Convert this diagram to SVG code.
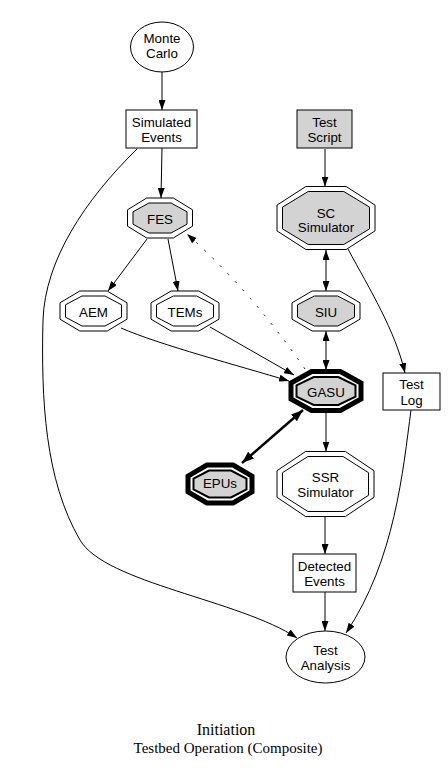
<svg xmlns="http://www.w3.org/2000/svg" width="448" height="773" viewBox="0 0 448 773">
<style>
.n text{font-family:"Liberation Sans",Arial,sans-serif;font-size:13.33px;text-anchor:middle;fill:#000}
.o{fill:none;stroke:#000;stroke-width:1}
.g{fill:#d3d3d3}
.w{fill:#fff}
.e path{fill:none;stroke:#000;stroke-width:1}
.t{font-family:"Liberation Serif","Times New Roman",serif;font-size:16px;text-anchor:middle;fill:#000}
</style>
<defs>
<marker id="ah" markerWidth="10" markerHeight="7" refX="10" refY="3.5" orient="auto" markerUnits="userSpaceOnUse"><path d="M0,0 L10,3.5 L0,7 z" fill="#000"/></marker>
<marker id="as" markerWidth="10" markerHeight="7" refX="10" refY="3.5" orient="auto-start-reverse" markerUnits="userSpaceOnUse"><path d="M0,0 L10,3.5 L0,7 z" fill="#000"/></marker>
<marker id="ab" markerWidth="12" markerHeight="9" refX="12" refY="4.5" orient="auto-start-reverse" markerUnits="userSpaceOnUse"><path d="M0,0 L12,4.5 L0,9 z" fill="#000"/></marker>
</defs>
<rect width="448" height="773" fill="#fff"/>
<g class="e" id="edges">
<path d="M162,72 L162,110" marker-end="url(#ah)"/>
<path d="M162,148 L161,198" marker-end="url(#ah)"/>
<path d="M325,149 L325,186.5" marker-end="url(#ah)"/>
<path d="M326,250 L326,291" marker-start="url(#as)" marker-end="url(#as)"/>
<path d="M326,331 L326,370" marker-start="url(#as)" marker-end="url(#as)"/>
<path d="M326,413 L326,451.5" marker-end="url(#ah)"/>
<path d="M325,517 L325,554" marker-end="url(#ah)"/>
<path d="M325,592 L325,631" marker-end="url(#ah)"/>
<path d="M147,239 L108,291" marker-end="url(#ah)"/>
<path d="M168,239 L178,291" marker-end="url(#ah)"/>
<path d="M121,328 C160,345 240,366 289,381" marker-end="url(#ah)"/>
<path d="M210,327 L294,375" marker-end="url(#ah)"/>
<path d="M305,369 Q250,290 187,234" stroke-dasharray="2,9" marker-end="url(#ah)"/>
<path d="M303,410 L242,463" style="stroke-width:2.5" marker-start="url(#ab)" marker-end="url(#ab)"/>
<path d="M348,249 C370,290 395,330 405,373" marker-end="url(#ah)"/>
<path d="M411,410 C403,470 395,560 346,633" marker-end="url(#ah)"/>
<path d="M137,149 C85,200 45,260 43,320 C41,400 45,480 80,540 C105,583 240,600 297,638" marker-end="url(#ah)"/>
</g>
<g class="n" id="monte-carlo">
<ellipse cx="162" cy="47" rx="31.5" ry="25" class="o w"/>
<text x="162" y="43">Monte</text><text x="162" y="58">Carlo</text>
</g>
<g class="n" id="simulated-events">
<rect x="126" y="110" width="71" height="38" class="o w"/>
<text x="161.5" y="126.5">Simulated</text><text x="161.5" y="141.5">Events</text>
</g>
<g class="n" id="test-script">
<rect x="297" y="110" width="55" height="38" class="o g"/>
<text x="324.5" y="126.5">Test</text><text x="324.5" y="141.5">Script</text>
</g>
<g class="n" id="fes">
<polygon class="o w" points="146.7,198 173.3,198 192.5,209.8 192.5,226.2 173.3,238 146.7,238 127.5,226.2 127.5,209.8"/>
<polygon class="o g" points="148.9,203 171.1,203 187,211.8 187,224.2 171.1,233 148.9,233 133,224.2 133,211.8"/>
<text x="160" y="223.5">FES</text>
</g>
<g class="n" id="sc-simulator">
<polygon class="o w" points="305.9,186.5 346.1,186.5 375,205.1 375,230.9 346.1,249.5 305.9,249.5 277,230.9 277,205.1"/>
<polygon class="o g" points="308.2,191.5 343.8,191.5 369.5,207.1 369.5,228.9 343.8,244.5 308.2,244.5 282.5,228.9 282.5,207.1"/>
<text x="326" y="217.5">SC</text><text x="326" y="232">Simulator</text>
</g>
<g class="n" id="aem">
<polygon class="o w" points="79.8,291 107.2,291 127,302.8 127,319.2 107.2,331 79.8,331 60,319.2 60,302.8"/>
<polygon class="o w" points="82,296 105,296 121.5,304.8 121.5,317.2 105,326 82,326 65.5,317.2 65.5,304.8"/>
<text x="93.5" y="316.5">AEM</text>
</g>
<g class="n" id="tems">
<polygon class="o w" points="171.1,291 198.9,291 219,302.8 219,319.2 198.9,331 171.1,331 151,319.2 151,302.8"/>
<polygon class="o w" points="173.3,296 196.7,296 213.5,304.8 213.5,317.2 196.7,326 173.3,326 156.5,317.2 156.5,304.8"/>
<text x="185" y="316.5">TEMs</text>
</g>
<g class="n" id="siu">
<polygon class="o w" points="312.1,291 339.9,291 360,302.8 360,319.2 339.9,331 312.1,331 292,319.2 292,302.8"/>
<polygon class="o g" points="314.3,296 337.7,296 354.5,304.8 354.5,317.2 337.7,326 314.3,326 297.5,317.2 297.5,304.8"/>
<text x="326" y="316.5">SIU</text>
</g>
<g class="n" id="gasu">
<polygon class="w" style="stroke:#000;stroke-width:5" points="311.6,371.5 340.4,371.5 361,383 361,399 340.4,410.5 311.6,410.5 291,399 291,383"/>
<polygon class="g" style="stroke:#000;stroke-width:2" points="313.7,377 338.3,377 355.5,385.3 355.5,396.7 338.3,405 313.7,405 296.5,396.7 296.5,385.3"/>
<text x="326" y="397">GASU</text>
</g>
<g class="n" id="test-log">
<rect x="383" y="373" width="57" height="37" class="o w"/>
<text x="411.5" y="389">Test</text><text x="411.5" y="404.5">Log</text>
</g>
<g class="n" id="epus">
<polygon class="w" style="stroke:#000;stroke-width:5" points="206.9,465 233.1,465 252,476.2 252,491.8 233.1,503 206.9,503 188,491.8 188,476.2"/>
<polygon class="g" style="stroke:#000;stroke-width:2" points="209,470.5 231,470.5 246.5,478.5 246.5,489.5 231,497.5 209,497.5 193.5,489.5 193.5,478.5"/>
<text x="220" y="488">EPUs</text>
</g>
<g class="n" id="ssr-simulator">
<polygon class="o w" points="305.6,451.5 345.4,451.5 374,470.7 374,497.3 345.4,516.5 305.6,516.5 277,497.3 277,470.7"/>
<polygon class="o w" points="307.9,456.5 343.1,456.5 368.5,472.7 368.5,495.3 343.1,511.5 307.9,511.5 282.5,495.3 282.5,472.7"/>
<text x="325.5" y="481.5">SSR</text><text x="325.5" y="496.5">Simulator</text>
</g>
<g class="n" id="detected-events">
<rect x="293" y="554" width="63" height="38" class="o w"/>
<text x="324.5" y="570.5">Detected</text><text x="324.5" y="585.5">Events</text>
</g>
<g class="n" id="test-analysis">
<ellipse cx="325.5" cy="657" rx="39.5" ry="26" class="o w"/>
<text x="325.5" y="654.5">Test</text><text x="325.5" y="670">Analysis</text>
</g>
<g id="title">
<text class="t" x="226" y="735">Initiation</text>
<text class="t" x="228" y="753" style="font-size:15px">Testbed Operation (Composite)</text>
</g>
</svg>
